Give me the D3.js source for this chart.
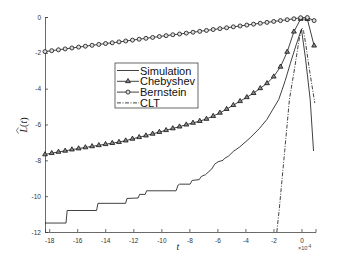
<!DOCTYPE html>
<html>
<head>
<meta charset="utf-8">
<script src="https://cdn.jsdelivr.net/npm/d3@7"></script>
<style>
body{margin:0;background:#fff;}
svg{display:block;}
</style>
</head>
<body>
<div id="viz"></div>
<script>
// marker grid (x 1e-4)
const tGrid=[-18.30,-17.82,-17.34,-16.86,-16.38,-15.90,-15.42,-14.94,-14.46,-13.98,
  -13.50,-13.02,-12.54,-12.06,-11.58,-11.10,-10.62,-10.14,-9.66,-9.18,
  -8.70,-8.22,-7.74,-7.26,-6.78,-6.30,-5.82,-5.34,-4.86,-4.38,
  -3.90,-3.42,-2.94,-2.46,-1.98,-1.50,-1.02,-0.54,-0.06,0.42,0.90];
const bernstein=[-1.93,-1.88,-1.83,-1.78,-1.73,-1.68,-1.63,-1.58,-1.53,-1.48,
  -1.44,-1.39,-1.34,-1.29,-1.24,-1.19,-1.14,-1.09,-1.04,-0.99,
  -0.95,-0.90,-0.85,-0.80,-0.75,-0.70,-0.65,-0.60,-0.55,-0.50,
  -0.45,-0.40,-0.35,-0.30,-0.25,-0.20,-0.15,-0.10,-0.04,-0.03,-0.20];
const chebyshev=[-7.67,-7.60,-7.53,-7.47,-7.40,-7.34,-7.28,-7.22,-7.16,-7.10,
  -7.04,-6.98,-6.90,-6.80,-6.71,-6.62,-6.52,-6.42,-6.32,-6.22,
  -6.12,-6.01,-5.91,-5.81,-5.69,-5.53,-5.35,-5.14,-4.92,-4.70,
  -4.48,-4.25,-3.98,-3.70,-3.33,-2.78,-1.95,-0.82,-0.11,-0.12,-1.60];
const simT=[-18.3,-16.8,-16.72,-14.62,-14.52,-12.55,-12.45,-11.65,-11.55,-11.15,
  -11.05,-8.95,-8.8,-8.7,-7.95,-7.8,-7.3,-7.15,-6.85,-6.6,
  -6.4,-6.2,-5.95,-5.6,-5.5,-5.2,-4.86,-4.4,-3.66,-3.0,
  -2.47,-1.62,-1.16,-0.8,-0.4,0.0,0.3,0.62,0.86];
const simV=[-11.5,-11.5,-10.8,-10.8,-10.4,-10.4,-10.13,-10.1,-9.9,-9.9,
  -9.7,-9.7,-9.38,-9.33,-9.33,-9.12,-9.08,-8.9,-8.8,-8.62,
  -8.48,-8.22,-8.08,-8.0,-7.9,-7.76,-7.5,-7.25,-6.74,-6.22,
  -5.72,-4.6,-3.55,-2.6,-1.6,-0.68,-2.4,-4.6,-7.48];
const cltT=[-1.76,-1.57,-1.2,-0.86,-0.5,-0.2,-0.05,0.05,0.15,0.3,0.6,0.95];
const cltV=[-12,-10.6,-7.5,-4.6,-2.9,-1.4,-0.8,-0.62,-0.8,-1.5,-3.1,-4.8];
const xTicks=[-18,-16,-14,-12,-10,-8,-6,-4,-2,0];
const yTicks=[0,-2,-4,-6,-8,-10,-12];
const seriesNames=['Simulation','Chebyshev','Bernstein','CLT'];

const W=348,H=262;
const svg=d3.select('#viz').append('svg').attr('width',W).attr('height',H);

const x=d3.scaleLinear().domain([-18.3,1.0]).range([45,315.5]);
const y=d3.scaleLinear().domain([-12,0]).range([232,17]);

// axes
const xAxis=svg.append('g').attr('transform',`translate(0,${y(-12)})`)
  .call(d3.axisBottom(x).tickValues(xTicks).tickSize(-3).tickPadding(6).tickFormat(d=>d));
const yAxis=svg.append('g').attr('transform',`translate(${x(-18.3)},0)`)
  .call(d3.axisLeft(y).tickValues(yTicks).tickSize(-3).tickPadding(4).tickFormat(d=>d));
[xAxis,yAxis].forEach(a=>{
  a.select('.domain').attr('stroke','#444').attr('stroke-width',0.8);
  a.selectAll('.tick line').attr('stroke','#444').attr('stroke-width',0.8);
  a.selectAll('text').attr('font-family','Liberation Sans, Arial, sans-serif')
    .attr('font-size',6.5).attr('fill','#333');
});

const line=d3.line().x(d=>x(d[0])).y(d=>y(d[1]));
const g=svg.append('g');

// simulation
g.append('path').datum(simT.map((t,i)=>[t,simV[i]]))
  .attr('d',line).attr('fill','none').attr('stroke','#111').attr('stroke-width',0.8);
// CLT
g.append('path').datum(cltT.map((t,i)=>[t,cltV[i]]))
  .attr('d',line).attr('fill','none').attr('stroke','#111').attr('stroke-width',0.8)
  .attr('stroke-dasharray','4,1.5,1,1.5');
// chebyshev
const cheb=tGrid.map((t,i)=>[t,chebyshev[i]]);
g.append('path').datum(cheb).attr('d',line).attr('fill','none')
  .attr('stroke','#111').attr('stroke-width',0.8);
const tri=d3.symbol().type(d3.symbolTriangle).size(10);
g.selectAll('.tri').data(cheb).enter().append('path').attr('class','tri')
  .attr('d',tri).attr('transform',d=>`translate(${x(d[0])},${y(d[1])})`)
  .attr('fill','#888').attr('stroke','#111').attr('stroke-width',0.8);
// bernstein
const bern=tGrid.map((t,i)=>[t,bernstein[i]]);
g.append('path').datum(bern).attr('d',line).attr('fill','none')
  .attr('stroke','#111').attr('stroke-width',0.8);
g.selectAll('.circ').data(bern).enter().append('circle').attr('class','circ')
  .attr('cx',d=>x(d[0])).attr('cy',d=>y(d[1])).attr('r',2)
  .attr('fill','#ddd').attr('stroke','#111').attr('stroke-width',0.8);

// legend
const lg=svg.append('g').attr('transform','translate(115,63)');
lg.append('rect').attr('width',83).attr('height',45).attr('fill','#fff')
  .attr('stroke','#444').attr('stroke-width',0.8);
seriesNames.forEach((name,i)=>{
  const yy=7.5+i*10.8;
  const ln=lg.append('line').attr('x1',2).attr('x2',24).attr('y1',yy).attr('y2',yy)
    .attr('stroke','#111').attr('stroke-width',0.8);
  if(name==='CLT') ln.attr('stroke-dasharray','4,1.5,1,1.5');
  if(name==='Chebyshev') lg.append('path').attr('d',tri)
    .attr('transform',`translate(13,${yy})`).attr('fill','#888').attr('stroke','#111').attr('stroke-width',0.8);
  if(name==='Bernstein') lg.append('circle').attr('cx',13).attr('cy',yy).attr('r',2)
    .attr('fill','#ddd').attr('stroke','#111').attr('stroke-width',0.8);
  lg.append('text').attr('x',25).attr('y',yy+4).text(name)
    .attr('font-family','Liberation Sans, Arial, sans-serif').attr('font-size',11).attr('fill','#111');
});

// axis titles
svg.append('text').attr('x',178).attr('y',250).attr('text-anchor','middle')
  .attr('font-family','Liberation Serif, serif').attr('font-style','italic')
  .attr('font-size',10).attr('fill','#222').text('t');
const ex=svg.append('text').attr('x',298).attr('y',250)
  .attr('font-family','Liberation Sans, Arial, sans-serif').attr('font-size',5.5).attr('fill','#444');
ex.append('tspan').text('\u00d710');
ex.append('tspan').attr('dy',-2.5).attr('font-size',4.5).text('-4');

const yl=svg.append('g').attr('transform','translate(27,125) rotate(-90)');
yl.append('text').attr('x',0).attr('y',0).attr('text-anchor','middle')
  .attr('font-family','Liberation Serif, serif').attr('font-size',10).attr('fill','#222')
  .html('<tspan font-style="italic">L</tspan>(<tspan font-style="italic">t</tspan>)');
yl.append('path').attr('d','M-8.5,-8.5 L-5.5,-10.5 L-2.5,-8.5')
  .attr('fill','none').attr('stroke','#222').attr('stroke-width',0.6);
</script>
</body>
</html>
